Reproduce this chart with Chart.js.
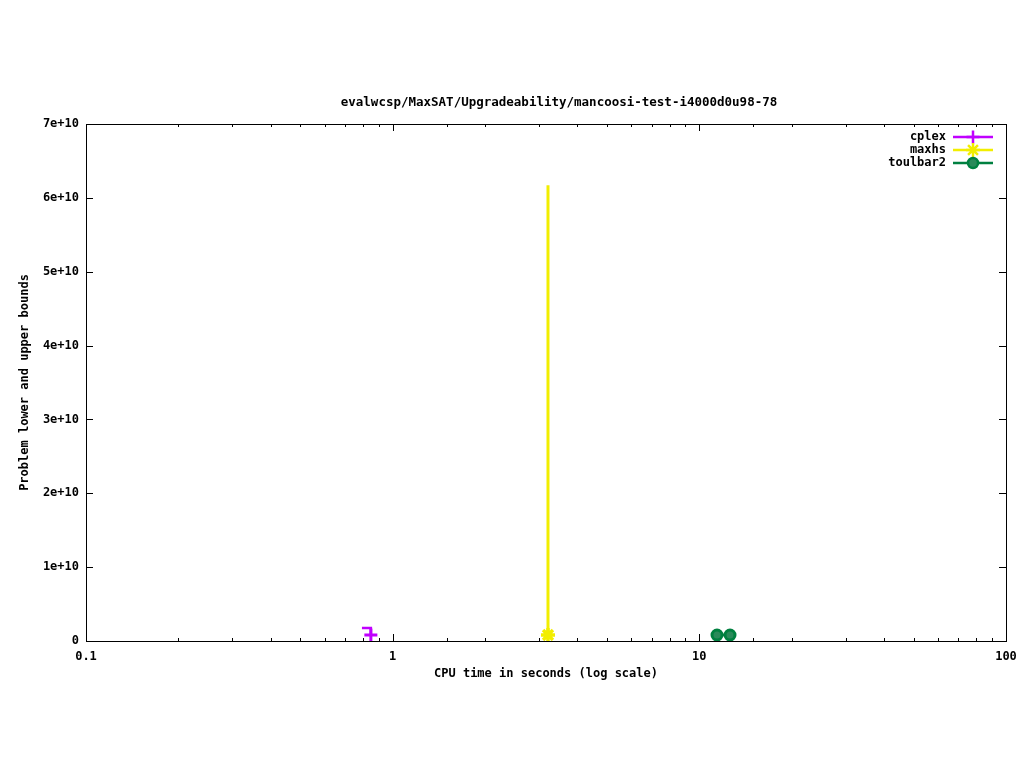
<!DOCTYPE html>
<html>
<head>
<meta charset="utf-8">
<script src="https://cdn.jsdelivr.net/npm/chart.js@4"></script>
<style>
  html, body { margin: 0; padding: 0; background: #fff; }
  #wrap { width: 1024px; height: 768px; }
</style>
</head>
<body>
<div id="wrap"><canvas id="c" width="1024" height="768"></canvas></div>
<script>
var chartTitle = "evalwcsp/MaxSAT/Upgradeability/mancoosi-test-i4000d0u98-78"
var xTitle = "CPU time in seconds (log scale)"
var yTitle = "Problem lower and upper bounds"
var xTickVals = [0.1, 1, 10, 100]
var yTickVals = [0, 1e10, 2e10, 3e10, 4e10, 5e10, 6e10, 7e10]

var cplexT = [0.794, 0.849]
var cplexV = [1.76e9, 0.81e9]
var maxhsT = [3.21, 3.21]
var maxhsV = [6.17e10, 0.81e9]
var toulbarT = [11.42, 12.59]
var toulbarV = [0.81e9, 0.81e9]

var FONT = "'DejaVu Sans Mono', 'Liberation Mono', monospace"

function pts(xs, ys) {
    return xs.map((x, i) => ({ x: x, y: ys[i] }))
}

// gnuplot style inward ticks + frame + title
var frame = {
    id: 'frame',
    afterDatasetsDraw(chart) {
        var ctx = chart.ctx, a = chart.chartArea
        var sx = chart.scales.x, sy = chart.scales.y
        ctx.save()
        ctx.strokeStyle = '#000'
        ctx.lineWidth = 1
        ctx.beginPath()
        sx.ticks.forEach(t => {
            var lg = Math.log10(t.value)
            var major = Math.abs(lg - Math.round(lg)) < 1e-9
            var len = major ? 7 : 3
            var px = Math.round(sx.getPixelForValue(t.value)) + 0.5
            ctx.moveTo(px, a.bottom); ctx.lineTo(px, a.bottom - len)
            ctx.moveTo(px, a.top); ctx.lineTo(px, a.top + len)
        })
        yTickVals.forEach(v => {
            var py = Math.round(sy.getPixelForValue(v)) + 0.5
            ctx.moveTo(a.left, py); ctx.lineTo(a.left + 7, py)
            ctx.moveTo(a.right, py); ctx.lineTo(a.right - 7, py)
        })
        ctx.stroke()
        ctx.strokeRect(Math.round(a.left) + 0.5, Math.round(a.top) + 0.5,
            Math.round(a.right - a.left), Math.round(a.bottom - a.top))
        ctx.fillStyle = '#000'
        ctx.font = "bold 12.5px " + FONT
        ctx.textAlign = 'center'
        ctx.textBaseline = 'middle'
        ctx.fillText(chartTitle, 559, 103)
        ctx.restore()
    }
}

var keyBox = {
    id: 'keyBox',
    afterDraw(chart) {
        var ctx = chart.ctx
        ctx.save()
        ctx.font = "bold 12px " + FONT
        ctx.textAlign = 'right'
        ctx.textBaseline = 'middle'
        chart.data.datasets.forEach((ds, i) => {
            var y = 137 + 13 * i
            ctx.fillStyle = '#000'
            ctx.fillText(ds.label, 946, y)
            ctx.strokeStyle = ds.borderColor
            ctx.lineWidth = 2.5
            ctx.beginPath(); ctx.moveTo(953, y); ctx.lineTo(993, y); ctx.stroke()
            ctx.fillStyle = ds.pointBackgroundColor
            ctx.strokeStyle = ds.pointBorderColor
            Chart.helpers.drawPoint(ctx, {
                pointStyle: ds.pointStyle, radius: ds.keyRadius,
                borderWidth: ds.pointBorderWidth, rotation: 0
            }, 973, y)
        })
        ctx.restore()
    }
}

new Chart(document.getElementById('c'), {
    type: 'line',
    data: {
        datasets: [
            {
                label: 'cplex', data: pts(cplexT, cplexV),
                borderColor: '#c000ff', pointBorderColor: '#c000ff', pointBackgroundColor: '#c000ff',
                borderWidth: 2.5, stepped: 'before',
                pointStyle: 'cross', pointRadius: [0, 6.5], pointBorderWidth: 3, keyRadius: 6.5
            },
            {
                label: 'maxhs', data: pts(maxhsT, maxhsV),
                borderColor: '#f2ee00', pointBorderColor: '#f2ee00', pointBackgroundColor: '#f2ee00',
                borderWidth: 3, stepped: 'before',
                pointStyle: 'star', pointRadius: [0, 7], pointBorderWidth: 3.5, keyRadius: 7
            },
            {
                label: 'toulbar2', data: pts(toulbarT, toulbarV),
                borderColor: '#008040', pointBorderColor: '#008040', pointBackgroundColor: '#2a8a5a',
                borderWidth: 2.5, stepped: 'before',
                pointStyle: 'circle', pointRadius: 5, pointBorderWidth: 3, keyRadius: 5
            }
        ]
    },
    options: {
        responsive: false,
        animation: false,
        layout: { padding: { top: 124, right: 18, bottom: 0, left: 0 } },
        plugins: {
            legend: { display: false },
            tooltip: { enabled: false },
            title: { display: false }
        },
        scales: {
            x: {
                type: 'logarithmic', min: 0.1, max: 100,
                grid: { display: false, drawTicks: false },
                border: { display: false },
                afterFit: s => { s.height = 127; s.paddingRight = 0; s.paddingLeft = 0 },
                ticks: {
                    autoSkip: false, maxRotation: 0, padding: 9, color: '#000',
                    font: { family: FONT, size: 12, weight: 'bold' },
                    callback: v => {
                        var hit = xTickVals.find(t => Math.abs(t - v) / t < 1e-6)
                        return hit === undefined ? '' : String(hit)
                    }
                },
                title: {
                    display: true, text: xTitle, color: '#000',
                    font: { family: FONT, size: 12, weight: 'bold', lineHeight: 1.2 },
                    padding: { top: 0, bottom: 86.8 }
                }
            },
            y: {
                min: 0, max: 7e10,
                grid: { display: false, drawTicks: false },
                border: { display: false },
                afterFit: s => { s.width = 86; s.paddingTop = 0; s.paddingBottom = 0 },
                afterBuildTicks: s => { s.ticks = yTickVals.map(v => ({ value: v })) },
                ticks: {
                    padding: 7, color: '#000',
                    font: { family: FONT, size: 12, weight: 'bold' },
                    callback: v => v === 0 ? '0' : (v / 1e10) + 'e+10'
                },
                title: {
                    display: true, text: yTitle, color: '#000',
                    font: { family: FONT, size: 12, weight: 'bold', lineHeight: 1.2 },
                    padding: { top: 17.8, bottom: 0 }
                }
            }
        }
    },
    plugins: [frame, keyBox]
})
</script>
</body>
</html>
